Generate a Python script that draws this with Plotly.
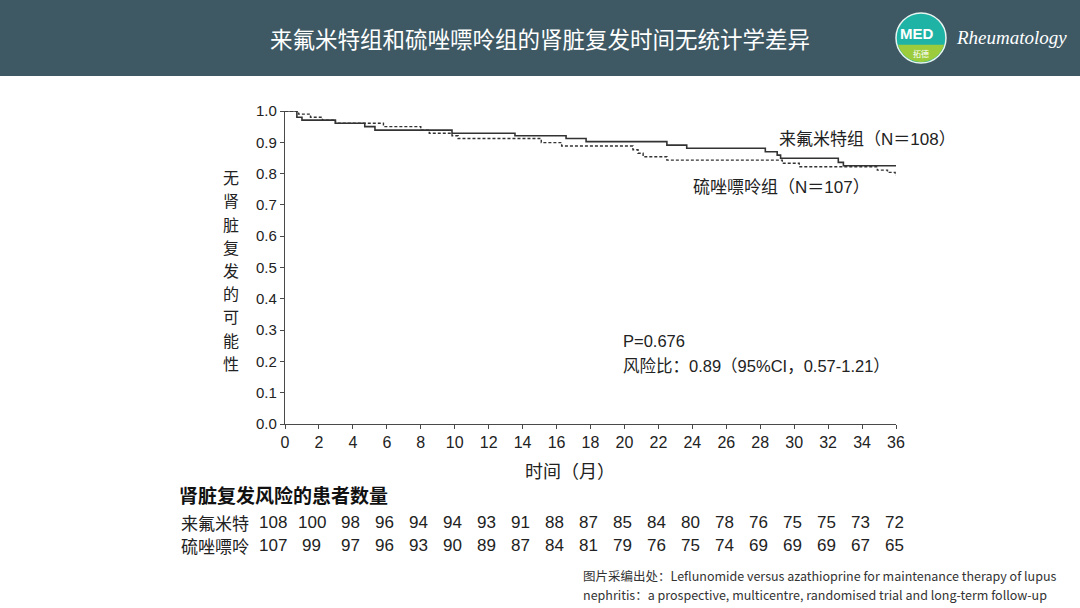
import numpy as np
import plotly.graph_objects as go

# ---------------- data ----------------
months_lef = [0, 0.7, 1.0, 2.97, 4.7, 5.3, 9.84, 13.55, 16.56, 17.74, 22.5, 23.67,
              28.3, 29.0, 29.2, 32.6, 32.9, 36]
surv_lef = [1.0, 0.98, 0.971, 0.961, 0.950, 0.939, 0.929, 0.921, 0.912, 0.902, 0.891, 0.881,
            0.870, 0.859, 0.849, 0.836, 0.825, 0.825]

months_aza = [0, 0.8, 1.5, 2.2, 2.97, 5.8, 8.0, 8.5, 9.84, 10.2, 15.1, 16.3, 20.5, 20.8,
              21.1, 22.5, 29.3, 30.3, 34.9, 35.5, 35.95, 36]
surv_aza = [1.0, 0.99, 0.98, 0.971, 0.961, 0.950, 0.939, 0.929, 0.921, 0.912, 0.899, 0.888,
            0.876, 0.865, 0.854, 0.843, 0.833, 0.822, 0.811, 0.804, 0.795, 0.795]

risk_months = [0, 2, 4, 6, 8, 10, 12, 14, 16, 18, 20, 22, 24, 26, 28, 30, 32, 34, 36]
risk_lef = [108, 100, 98, 96, 94, 94, 93, 91, 88, 87, 85, 84, 80, 78, 76, 75, 75, 73, 72]
risk_aza = [107, 99, 97, 96, 93, 90, 89, 87, 84, 81, 79, 76, 75, 74, 69, 69, 69, 67, 65]

y_ticks = [0.0, 0.1, 0.2, 0.3, 0.4, 0.5, 0.6, 0.7, 0.8, 0.9, 1.0]
x_ticks = risk_months

group_lef = "来氟米特"
group_aza = "硫唑嘌呤"
y_title = "无肾脏复发的可能性"

# ---------------- layout helpers ----------------
W, H = 1080, 608
L, R, T, B = 285, 896, 111, 424


def px(x, y):
    return (x - L) / (R - L), (B - y) / (B - T)


FONT = "Liberation Sans, Noto Sans CJK SC, sans-serif"
CJK = "Noto Sans CJK SC, Liberation Sans, sans-serif"
INK = "#222222"
AXIS = "#4a4a4a"

fig = go.Figure()

fig.add_trace(go.Scatter(
    x=months_lef, y=surv_lef, mode="lines", line_shape="hv",
    line=dict(color="#333333", width=1.6), cliponaxis=False, showlegend=False,
    hoverinfo="skip"))
fig.add_trace(go.Scatter(
    x=months_aza, y=surv_aza, mode="lines", line_shape="hv",
    line=dict(color="#333333", width=1.4, dash="3px,2px"), cliponaxis=False,
    showlegend=False, hoverinfo="skip"))

annotations = []


def text(x, y, s, size, color=INK, anchor="left", family=CJK, ya="middle"):
    xp, yp = px(x, y)
    annotations.append(dict(x=xp, y=yp, xref="paper", yref="paper", text=s,
                            showarrow=False, xanchor=anchor, yanchor=ya,
                            font=dict(size=size, color=color, family=family)))


# header
text(540, 38, "来氟米特组和硫唑嘌呤组的肾脏复发时间无统计学差异", 22.5, "#ffffff", "center")
text(954, 38, "<i>Rheumatology</i>", 19, "#ffffff", "left", "Liberation Serif, serif")
text(917, 33, "<b>MED</b>", 15, "#ffffff", "center", "Liberation Sans, sans-serif")
text(921, 53, "拓德", 8, "#ffffff", "center")

# y axis title (vertical, one character per line)
step = 23.2
top = 270 - step * (len(y_title) - 1) / 2
for i, ch in enumerate(y_title):
    text(231, top + i * step, ch, 16, INK, "center")
# x axis title
text(570, 470, "时间（月）", 18, INK, "center")

# curve labels
text(777, 139, f"{group_lef}组（N＝108）", 17, INK, "left", FONT)
text(691, 187, f"{group_aza}组（N＝107）", 17, INK, "left", FONT)
text(621, 341, "P=0.676", 16.5, INK, "left", FONT)
text(621, 366, "风险比：0.89（95%CI，0.57-1.21）", 16.5, INK, "left", FONT)

# number at risk table
text(177, 494, "<b>肾脏复发风险的患者数量</b>", 19, "#111111", "left")
text(179, 522, group_lef, 17, INK, "left")
text(179, 545, group_aza, 17, INK, "left")
shifts = [-12, -7] + [-2] * (len(risk_months) - 2)
for m, a, b, sh in zip(risk_months, risk_lef, risk_aza, shifts):
    for val, yy in ((a, 522), (b, 545)):
        annotations.append(dict(x=m, y=px(0, yy)[1], xref="x", yref="paper",
                                text=str(val), showarrow=False, xanchor="center",
                                yanchor="middle", xshift=sh,
                                font=dict(size=17, color=INK, family=FONT)))

# footer
text(581, 575, "图片采编出处：Leflunomide versus azathioprine for maintenance therapy of lupus",
     12.5, "#333333", "left")
text(581, 594, "nephritis：a prospective, multicentre, randomised trial and long-term follow-up",
     12.5, "#333333", "left")

# shapes
shapes = []
x0, y0 = px(0, 0)
x1, y1 = px(W, 76)
shapes.append(dict(type="rect", xref="paper", yref="paper", x0=x0, y0=y0, x1=x1, y1=y1,
                   fillcolor="#3e5964", line=dict(width=0), layer="below"))
# logo circle
cx, cy, rr = 921, 38, 25
a0, b0 = px(cx - rr, cy - rr)
a1, b1 = px(cx + rr, cy + rr)
shapes.append(dict(type="circle", xref="paper", yref="paper", x0=a0, y0=b1, x1=a1, y1=b0,
                   fillcolor="#1fb3a6", line=dict(color="#e8f4f0", width=1.5)))
# lower green segment of logo
cut = 45
ang_lim = np.arcsin((cut - cy) / rr)
angs = np.linspace(ang_lim, np.pi - ang_lim, 30)
pts = [px(cx + (rr - 1) * np.cos(t), cy + (rr - 1) * np.sin(t)) for t in angs]
path = "M " + " L ".join(f"{p[0]:.5f},{p[1]:.5f}" for p in pts) + " Z"
shapes.append(dict(type="path", xref="paper", yref="paper", path=path,
                   fillcolor="#9ccc3c", line=dict(width=0)))

fig.update_layout(
    width=W, height=H,
    margin=dict(l=L, r=W - R, t=T, b=H - B, pad=0),
    paper_bgcolor="#ffffff", plot_bgcolor="#ffffff",
    font=dict(family=FONT, color=INK),
    annotations=annotations, shapes=shapes,
    xaxis=dict(range=[0, 36], tickvals=x_ticks, ticktext=[str(v) for v in x_ticks],
               showline=True, linecolor=AXIS, linewidth=1.2, ticks="outside",
               ticklen=4, tickcolor=AXIS, tickwidth=1.2, showgrid=False, zeroline=False,
               tickfont=dict(size=16, color=INK, family=FONT)),
    yaxis=dict(range=[0, 1.0], tickvals=y_ticks, ticktext=[f"{v:.1f}" for v in y_ticks],
               showline=True, linecolor=AXIS, linewidth=1.2, ticks="outside",
               ticklen=4, tickcolor=AXIS, tickwidth=1.2, showgrid=False, zeroline=False,
               tickfont=dict(size=15, color=INK, family=FONT)),
)

fig.write_html("out.html", config={"displayModeBar": False},
               post_script="document.body.style.margin='0';document.body.style.padding='0';")
